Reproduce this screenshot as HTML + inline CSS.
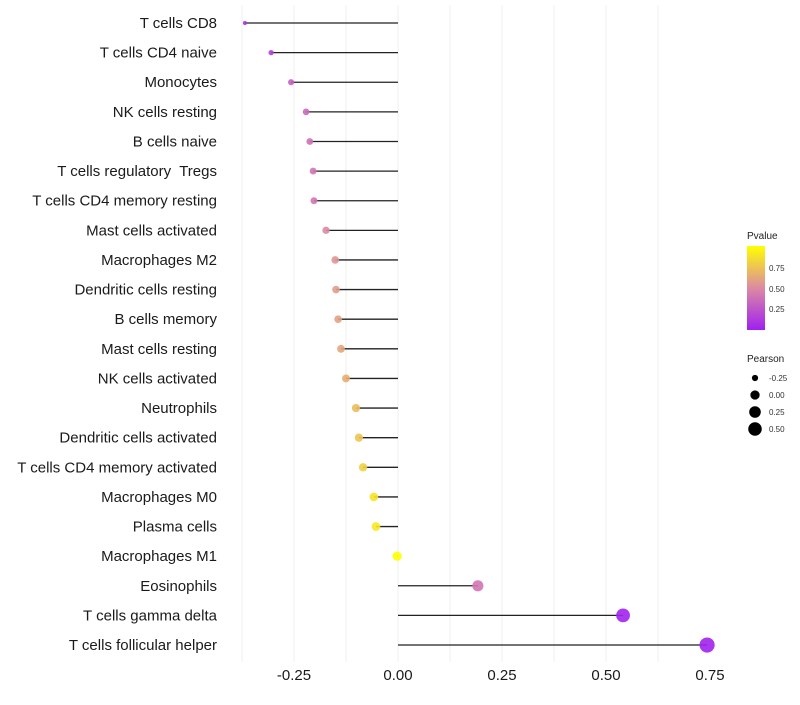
<!DOCTYPE html>
<html><head><meta charset="utf-8"><style>
body{margin:0;background:#fff;font-family:"Liberation Sans",sans-serif}
text{white-space:pre}
</style></head><body>
<svg id="chart" width="800" height="700" xmlns="http://www.w3.org/2000/svg" font-family="Liberation Sans, sans-serif">
<g id="grid"></g>
<g id="rows"></g>
<g id="xaxis"></g>
<g id="legend">
<defs><linearGradient id="pg" x1="0" y1="1" x2="0" y2="0">
<stop offset="0" stop-color="#a020f0"/><stop offset="0.5" stop-color="#dc8aa3"/><stop offset="1" stop-color="#ffff00"/></linearGradient></defs>
<text x="747" y="239" font-size="10" fill="#222">Pvalue</text>
<rect x="747" y="246" width="18" height="84" fill="url(#pg)"/>
<text x="769" y="271" font-size="8" fill="#333">0.75</text>
<text x="769" y="292" font-size="8" fill="#333">0.50</text>
<text x="769" y="312" font-size="8" fill="#333">0.25</text>
<text x="747" y="362" font-size="10" fill="#222">Pearson</text>
<g id="sizeleg"></g>
</g>
</svg>
<script>
const cells=["T cells CD8","T cells CD4 naive","Monocytes","NK cells resting","B cells naive","T cells regulatory  Tregs","T cells CD4 memory resting","Mast cells activated","Macrophages M2","Dendritic cells resting","B cells memory","Mast cells resting","NK cells activated","Neutrophils","Dendritic cells activated","T cells CD4 memory activated","Macrophages M0","Plasma cells","Macrophages M1","Eosinophils","T cells gamma delta","T cells follicular helper"];
const pearson=[-0.368,-0.305,-0.257,-0.221,-0.212,-0.204,-0.202,-0.173,-0.151,-0.149,-0.144,-0.137,-0.125,-0.101,-0.094,-0.084,-0.058,-0.053,-0.002,0.192,0.541,0.743];
const pvalue=[0.08,0.15,0.3,0.35,0.38,0.4,0.4,0.5,0.55,0.58,0.6,0.62,0.66,0.72,0.75,0.8,0.88,0.9,1.0,0.4,0.02,0.01];
const xTicks=[-0.25,0,0.25,0.5,0.75];
const xTickLabels=["-0.25","0.00","0.25","0.50","0.75"];
const sizeLegendVals=[-0.25,0,0.25,0.5];
const sizeLegendLabels=["-0.25","0.00","0.25","0.50"];
const NS="http://www.w3.org/2000/svg";
const x=v=>398+v*416;
const y=i=>23+i*29.62;
const r=v=>Math.sqrt(4+48*Math.max(0,v+0.368));
function lerp(a,b,t){return a.map((c,k)=>Math.round(c+(b[k]-c)*t));}
function col(p){const s=[[160,32,240],[220,138,163],[255,255,0]];
 const c=p<0.5?lerp(s[0],s[1],p/0.5):lerp(s[1],s[2],(p-0.5)/0.5);return `rgb(${c.join(",")})`;}
function mk(tag,attrs,parent){const e=document.createElementNS(NS,tag);for(const k in attrs)e.setAttribute(k,attrs[k]);parent.appendChild(e);return e;}
const grid=document.getElementById('grid');
for(let g=-0.375;g<=0.63;g+=0.125){
 const l=mk('line',{x1:x(g),x2:x(g),y1:5,y2:662,stroke:'#efefef','stroke-width':1},grid);
 
 
}
const rows=document.getElementById('rows');
cells.forEach((c,i)=>{
 const t=mk('text',{x:217,y:y(i)+5,'text-anchor':'end','font-size':15,fill:'#1a1a1a'},rows);t.textContent=c;
 
 
 const s=mk('line',{x1:x(0),x2:x(pearson[i]),y1:y(i),y2:y(i),stroke:'#222','stroke-width':1.3},rows);
 
 
 const p=mk('circle',{cx:x(pearson[i]),cy:y(i),r:r(pearson[i]),fill:col(pvalue[i]),'fill-opacity':0.9},rows);
 
 
});
const xa=document.getElementById('xaxis');
xTicks.forEach((v,i)=>{
 const t=mk('text',{x:x(v),y:680,'text-anchor':'middle','font-size':15,fill:'#1a1a1a'},xa);t.textContent=xTickLabels[i];
 
 
});
const sl=document.getElementById('sizeleg');
sizeLegendVals.forEach((v,i)=>{
 const yy=378+i*17;
 const c=mk('circle',{cx:755,cy:yy,r:r(v),fill:'#000'},sl);
 
 
 const t=mk('text',{x:769,y:yy+3,'font-size':8,fill:'#333'},sl);t.textContent=sizeLegendLabels[i];
 
 
});
</script>
</body></html>
